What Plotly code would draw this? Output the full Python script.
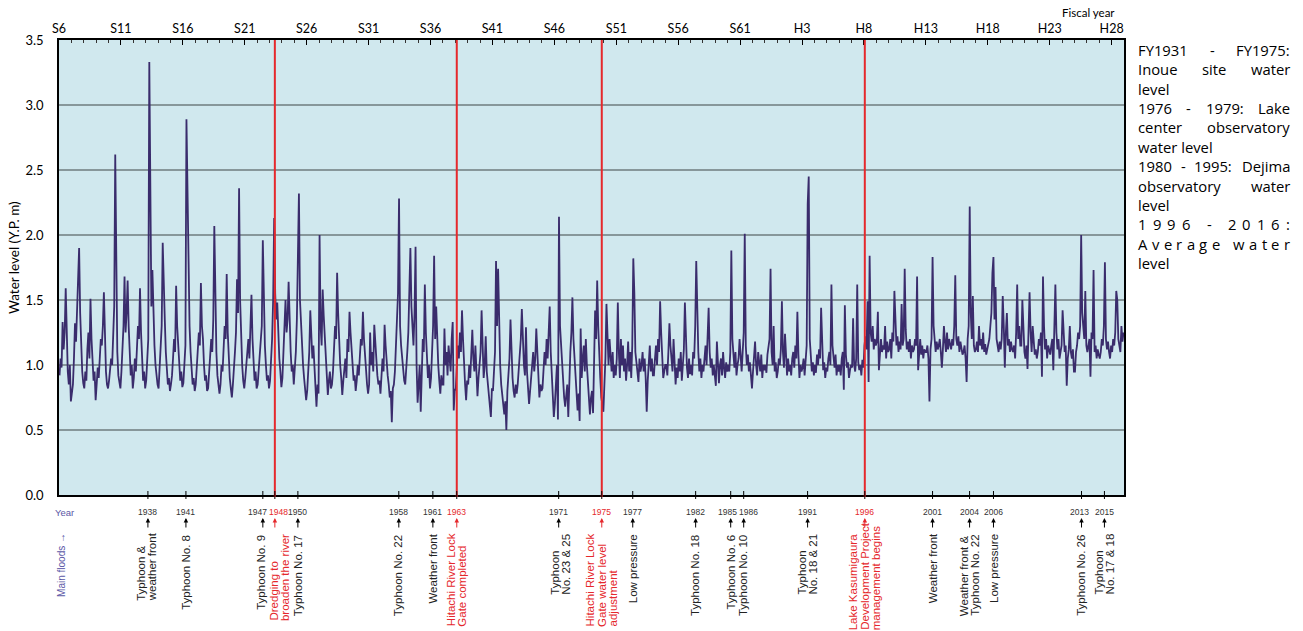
import plotly.graph_objects as go

# ---------------- data ----------------
fiscal_tick_years = list(range(1931, 2017, 5))
fiscal_tick_labels = ["S6", "S11", "S16", "S21", "S26", "S31", "S36", "S41", "S46",
                      "S51", "S56", "S61", "H3", "H8", "H13", "H18", "H23", "H28"]

# monthly water level (Y.P. m), 12 values per fiscal year
level_1931_1940 = [
    0.92, 1.05, 0.98, 1.33, 1.12, 1.25, 1.59, 1.18, 0.95, 0.85, 1.00, 0.72,
    0.78, 0.85, 1.05, 1.32, 1.18, 1.45, 1.72, 1.90, 1.40, 1.15, 0.95, 0.86,
    0.82, 0.95, 0.88, 1.12, 1.25, 1.05, 1.51, 1.20, 0.98, 0.88, 0.95, 0.73,
    0.85, 0.98, 0.90, 1.08, 1.20, 1.15, 1.30, 1.56, 1.10, 0.95, 0.85, 0.82,
    0.88, 0.95, 1.05, 1.00, 1.20, 1.45, 2.62, 1.50, 1.10, 0.92, 0.85, 0.82,
    0.95, 1.10, 1.30, 1.68, 1.25, 1.40, 1.65, 1.30, 1.05, 0.92, 1.00, 0.82,
    0.90, 1.05, 0.95, 1.15, 1.30, 1.20, 1.59, 1.25, 1.00, 0.88, 0.95, 0.82,
    0.88, 1.00, 1.20, 3.33, 2.09, 1.45, 1.73, 1.30, 1.15, 1.00, 0.90, 0.85,
    0.82, 0.95, 1.10, 1.30, 1.94, 1.50, 1.35, 1.10, 0.95, 0.85, 0.90, 0.80,
    0.85, 0.92, 1.05, 1.20, 1.10, 1.61, 1.30, 1.12, 0.98, 0.88, 0.95, 0.83,
]
level_1941_1950 = [
    0.86, 1.00, 1.15, 2.89, 2.20, 1.60, 1.30, 1.10, 0.95, 0.85, 0.90, 0.80,
    0.85, 0.98, 1.10, 1.25, 1.15, 1.63, 1.30, 1.20, 1.00, 0.88, 0.92, 0.80,
    0.82, 0.95, 1.05, 1.20, 1.10, 1.35, 2.07, 1.40, 1.10, 0.92, 0.85, 0.78,
    0.85, 1.00, 0.95, 1.15, 1.30, 1.20, 1.70, 1.25, 1.00, 0.90, 0.82, 0.75,
    0.85, 0.95, 1.10, 1.25, 1.66, 1.40, 2.36, 1.50, 1.20, 1.00, 0.88, 0.82,
    0.90, 1.00, 1.10, 1.20, 1.05, 1.30, 1.54, 1.20, 1.00, 0.88, 0.95, 0.82,
    0.85, 0.95, 1.05, 1.20, 1.30, 1.96, 1.40, 1.15, 1.00, 0.88, 0.92, 0.82,
    0.88, 1.00, 1.20, 1.50, 2.13, 1.55, 1.35, 1.48, 1.20, 1.05, 0.95, 0.83,
    0.90, 1.10, 1.30, 1.50, 1.25, 1.35, 1.64, 1.30, 1.10, 0.95, 1.00, 0.85,
    0.95, 1.10, 1.35, 1.96, 2.32, 1.50, 1.30, 1.15, 1.00, 0.90, 0.82, 0.73,
]
level_1951_1960 = [
    0.80, 0.95, 1.10, 1.42, 1.20, 1.05, 1.15, 0.95, 0.85, 0.68, 0.85, 0.78,
    2.00, 1.30, 1.15, 1.58, 1.38, 1.20, 1.05, 0.95, 0.77, 0.88, 0.95, 0.82,
    0.85, 0.95, 1.10, 1.30, 1.20, 1.71, 1.40, 1.15, 1.00, 0.90, 0.77, 0.88,
    0.95, 1.05, 0.90, 1.20, 1.10, 1.41, 1.25, 1.10, 0.95, 0.88, 0.92, 0.80,
    0.88, 1.00, 0.92, 1.10, 1.20, 1.15, 1.41, 1.20, 1.05, 0.90, 0.85, 0.78,
    0.85, 1.25, 1.00, 1.10, 0.95, 1.31, 1.15, 1.05, 0.92, 0.85, 0.88, 0.78,
    0.90, 1.05, 0.95, 1.31, 1.15, 1.00, 0.92, 0.85, 0.75, 0.80, 0.56, 0.82,
    0.85, 0.95, 1.20, 1.35, 1.55, 2.28, 1.30, 1.15, 1.05, 0.92, 0.88, 0.85,
    0.95, 1.10, 1.25, 1.50, 1.90, 1.45, 1.30, 1.15, 1.40, 1.91, 1.00, 0.71,
    0.85, 1.00, 0.64, 1.05, 1.20, 1.10, 1.62, 1.25, 1.05, 0.90, 1.00, 0.82,
]
level_1961_1970 = [
    0.90, 1.10, 1.30, 1.84, 1.20, 1.45, 1.15, 1.00, 0.88, 0.78, 0.92, 0.85,
    0.85, 1.28, 1.00, 1.10, 0.92, 1.15, 1.05, 0.95, 1.20, 1.33, 0.65, 0.80,
    0.82, 1.00, 1.15, 1.05, 1.25, 1.10, 1.42, 1.20, 0.95, 0.85, 0.73, 0.88,
    0.85, 1.00, 0.90, 1.10, 1.27, 1.05, 0.95, 1.15, 0.88, 0.76, 0.90, 1.00,
    1.10, 1.42, 1.05, 0.90, 1.00, 1.22, 0.95, 0.85, 0.78, 0.70, 0.60, 0.82,
    0.80, 0.95, 1.10, 1.80, 1.30, 1.74, 1.20, 1.00, 0.85, 0.75, 0.68, 0.62,
    0.72, 0.50, 0.80, 0.95, 1.05, 1.35, 1.10, 0.90, 0.80, 0.75, 0.85, 0.78,
    0.85, 0.95, 1.10, 1.20, 1.43, 1.15, 1.00, 0.92, 1.29, 0.95, 0.82, 0.70,
    0.80, 0.90, 1.00, 1.10, 0.95, 1.05, 1.28, 1.10, 0.90, 0.75, 0.85, 0.80,
    0.82, 0.95, 1.10, 1.00, 1.20, 1.05, 1.25, 1.45, 1.10, 0.90, 0.75, 0.60,
]
level_1971_1980 = [
    0.70, 0.85, 1.00, 0.58, 2.14, 1.30, 1.15, 1.00, 0.90, 0.75, 0.68, 0.80,
    0.85, 0.60, 0.95, 1.10, 1.25, 1.52, 1.20, 1.05, 0.90, 0.72, 0.65, 0.78,
    0.57, 1.28, 0.90, 1.05, 1.15, 0.95, 1.20, 1.00, 0.85, 0.70, 0.62, 0.75,
    0.80, 0.63, 1.00, 1.42, 1.20, 1.65, 1.30, 1.05, 0.90, 0.75, 0.70, 0.64,
    0.85, 1.05, 1.47, 1.15, 1.00, 1.20, 1.05, 0.95, 1.10, 0.90, 1.00, 0.92,
    1.05, 1.48, 1.10, 0.90, 1.20, 1.00, 1.15, 0.95, 1.05, 0.88, 1.00, 1.18,
    0.95, 1.10, 0.90, 1.15, 1.82, 1.56, 1.10, 1.00, 0.92, 0.87, 1.05, 0.95,
    1.00, 1.10, 0.95, 1.05, 0.90, 0.64, 0.88, 1.00, 1.15, 0.95, 1.05, 0.92,
    0.92, 1.05, 1.15, 1.00, 1.20, 1.10, 1.49, 1.25, 1.05, 0.90, 0.95, 1.00,
    1.00, 0.92, 1.10, 1.32, 1.15, 1.05, 0.95, 1.20, 1.00, 0.85, 0.98, 0.90,
]
level_1981_1990 = [
    1.05, 0.95, 1.10, 0.88, 1.00, 1.12, 1.48, 1.15, 0.98, 0.90, 1.05, 0.93,
    1.00, 0.92, 1.10, 1.05, 1.30, 1.80, 1.25, 1.10, 0.95, 1.05, 0.90, 1.00,
    0.95, 1.05, 1.15, 1.00, 1.20, 1.44, 1.10, 0.98, 1.05, 0.92, 1.00, 0.88,
    0.84, 1.18, 0.95, 0.86, 1.00, 1.05, 0.92, 1.10, 0.98, 0.90, 1.02, 0.95,
    1.00, 0.95, 1.10, 1.88, 1.20, 1.05, 0.98, 1.10, 0.92, 1.00, 1.05, 1.20,
    1.05, 0.95, 1.10, 1.25, 2.01, 1.15, 1.00, 1.08, 0.95, 1.02, 0.92, 0.82,
    0.95, 1.05, 1.18, 1.00, 0.92, 1.10, 1.02, 0.95, 1.08, 0.90, 1.00, 0.96,
    1.00, 0.94, 1.08, 1.15, 1.20, 1.74, 1.10, 1.00, 1.30, 0.95, 1.02, 0.90,
    0.95, 1.05, 1.00, 1.12, 1.49, 1.10, 0.98, 1.24, 1.00, 0.92, 1.05, 0.95,
    1.00, 0.92, 1.05, 1.10, 0.98, 1.15, 1.05, 1.41, 1.08, 0.90, 1.00, 0.95,
]
level_1991_2000 = [
    0.98, 1.05, 0.92, 1.10, 1.15, 2.24, 2.45, 1.20, 1.05, 0.95, 1.02, 0.92,
    1.00, 0.94, 1.08, 1.00, 1.12, 1.05, 1.44, 1.10, 0.96, 1.02, 0.90, 0.98,
    0.95, 1.05, 1.10, 1.00, 1.62, 1.15, 1.05, 0.98, 1.08, 0.92, 1.00, 0.95,
    1.00, 0.92, 1.05, 1.10, 0.81, 1.46, 1.08, 0.98, 1.02, 0.90, 0.96, 1.00,
    0.98, 1.36, 1.00, 0.95, 1.05, 1.62, 1.02, 0.96, 1.00, 0.92, 1.04, 0.98,
    1.15, 1.22, 1.12, 1.49, 0.87, 1.84, 1.25, 1.18, 1.30, 1.12, 1.20, 1.15,
    1.18, 1.41, 0.96, 1.12, 1.20, 1.10, 1.15, 1.12, 1.30, 1.05, 1.18, 1.10,
    1.12, 1.20, 1.05, 1.25, 1.18, 1.57, 1.30, 1.15, 1.22, 1.10, 1.18, 1.12,
    1.47, 1.15, 1.20, 1.74, 1.27, 1.12, 1.18, 1.10, 1.20, 1.05, 1.15, 1.10,
    1.12, 1.20, 1.15, 1.68, 0.96, 1.10, 1.20, 1.08, 1.15, 1.05, 1.12, 1.10,
]
level_2001_2010 = [
    1.10, 1.15, 1.05, 0.72, 1.12, 1.20, 1.83, 1.30, 1.15, 1.10, 1.18, 1.12,
    1.15, 1.20, 1.10, 0.98, 1.12, 1.30, 1.18, 1.10, 1.25, 1.12, 1.20, 1.15,
    1.12, 1.20, 1.15, 1.30, 1.69, 1.20, 1.15, 1.22, 1.10, 1.18, 1.12, 1.08,
    1.10, 1.15, 1.05, 0.87, 1.20, 1.30, 2.22, 1.40, 1.20, 1.53, 1.15, 1.10,
    1.12, 1.18, 1.10, 1.30, 1.15, 1.20, 1.12, 1.25, 1.10, 1.16, 1.08, 1.12,
    1.15, 1.20, 1.30, 1.40, 1.71, 1.83, 1.35, 1.60, 1.20, 1.15, 1.10, 1.18,
    1.12, 1.20, 1.53, 1.30, 0.98, 1.25, 1.40, 1.15, 1.20, 1.10, 1.18, 1.12,
    1.10, 1.15, 1.05, 1.25, 1.62, 1.20, 1.30, 1.15, 1.15, 1.50, 1.20, 1.10,
    1.05, 1.15, 0.97, 1.20, 1.56, 1.25, 1.10, 1.30, 1.15, 1.08, 1.12, 1.05,
    1.10, 1.20, 1.15, 1.25, 0.91, 1.68, 1.30, 1.12, 1.20, 1.05, 1.15, 1.10,
]
level_2011_2016 = [
    1.08, 1.15, 1.20, 0.96, 1.30, 1.62, 1.25, 1.12, 1.20, 1.05, 1.10, 1.15,
    1.42, 1.20, 1.10, 1.15, 0.84, 1.05, 1.12, 1.30, 1.10, 1.05, 1.12, 0.95,
    0.95, 1.10, 1.15, 1.25, 1.20, 1.30, 2.00, 1.40, 1.30, 1.20, 1.57, 1.15,
    1.10, 1.15, 1.20, 0.91, 1.25, 1.20, 1.73, 1.10, 1.15, 1.05, 1.12, 1.08,
    1.05, 1.10, 1.20, 1.15, 1.30, 1.79, 1.20, 1.12, 1.18, 1.10, 1.05, 1.15,
    1.10, 1.20, 1.15, 1.25, 1.57, 1.50, 1.20, 1.15, 1.10, 1.30, 1.18, 1.25,
]
decade_starts = [1931, 1941, 1951, 1961, 1971, 1981, 1991, 2001, 2011]
decade_levels = [level_1931_1940, level_1941_1950, level_1951_1960, level_1961_1970,
                 level_1971_1980, level_1981_1990, level_1991_2000, level_2001_2010,
                 level_2011_2016]

# main floods / events
flood_years = [1938, 1941, 1947, 1948, 1950, 1958, 1961, 1963, 1971, 1975, 1977,
               1982, 1985, 1986, 1991, 1996, 2001, 2004, 2006, 2013, 2015]
flood_dates = [1938.18, 1941.25, 1947.46, 1948.43, 1950.29, 1958.44, 1961.19, 1963.12,
               1971.35, 1974.83, 1977.33, 1982.41, 1985.24, 1986.29, 1991.45, 1996.07,
               2001.54, 2004.53, 2006.46, 2013.57, 2015.42]
flood_notes = [
    ["Typhoon &", "weather front"], ["Typhoon No. 8"], ["Typhoon No. 9"],
    ["Dredging to", "broaden the river"], ["Typhoon No. 17"], ["Typhoon No. 22"],
    ["Weather front"], ["Hitachi River Lock", "Gate completed"], ["Typhoon", "No. 23 & 25"],
    ["Hitachi River Lock", "Gate water level", "adjustment"], ["Low pressure"],
    ["Typhoon No. 18"], ["Typhoon No. 6"], ["Typhoon No. 10"], ["Typhoon", "No. 18 & 21"],
    ["Lake Kasumigaura", "Development Project", "management begins"], ["Weather front"],
    ["Weather front &", "Typhoon No. 22"], ["Low pressure"], ["Typhoon No. 26"],
    ["Typhoon", "No. 17 & 18"],
]
flood_is_measure = [False, False, False, True, False, False, False, True, False, True, False,
                    False, False, False, False, True, False, False, False, False, False]

side_note_lines = ["FY1931 - FY1975:", "Inoue site water", "level", "1976 - 1979: Lake",
                   "center observatory", "water level", "1980 - 1995: Dejima",
                   "observatory water", "level", "1996 - 2016:", "Average water", "level"]
# justification of each line: word-spread, letter-spread or plain left
side_note_mode = ["word", "word", "left", "word", "word", "left", "word", "word", "left",
                  "char", "char", "left"]

# ---------------- styling / layout ----------------
PL, PR, PT, PB = 59, 1124, 40, 495
PW, PH = PR - PL, PB - PT
LINE_COL = "#3a2c6c"
RED = "#e5282c"
BLUE = "#5b57a6"
BG = "#d0e8ee"
MYR = "Lato, 'Open Sans', sans-serif"
OPS = "'Open Sans', Lato, sans-serif"
HEL = "'Liberation Sans', Arial, sans-serif"


def pyp(p):
    return (PB - p) / PH


def pxp(p):
    return (p - PL) / PW


_W = {}
_W.update(dict(zip("abcdefghijklmnopqrstuvwxyz",
                   [556, 556, 500, 556, 556, 278, 556, 556, 222, 222, 500, 222, 833, 556,
                    556, 556, 556, 333, 500, 278, 556, 500, 722, 500, 500, 500])))
_W.update(dict(zip("ABCDEFGHIJKLMNOPQRSTUVWXYZ",
                   [667, 667, 722, 722, 667, 611, 778, 722, 278, 500, 667, 556, 833, 722,
                    778, 667, 778, 722, 667, 611, 722, 667, 944, 667, 667, 611])))
_W.update({" ": 278, ".": 278, "&": 667, "-": 333, ":": 278, "\u2192": 1000})


def text_w(s, size):
    return sum(_W.get(c, 556) for c in s) / 1000.0 * size


# approximate Open Sans advance widths (em)
_OW = dict(zip("abcdefghijklmnopqrstuvwxyz",
               [.556, .613, .480, .613, .561, .336, .546, .614, .258, .258, .525, .258, .932,
                .614, .603, .613, .613, .408, .477, .353, .614, .500, .778, .524, .500, .465]))
_OW.update({"A": .633, "D": .730, "F": .532, "I": .331, "L": .519, "Y": .579,
            "-": .322, ":": .266, " ": .260})


def os_w(s, size):
    return sum(_OW.get(c, .572) for c in s) * size


xs, ys = [], []
for y0, vals in zip(decade_starts, decade_levels):
    for i, v in enumerate(vals):
        xs.append(y0 + i / 12.0 + 1 / 24.0)
        ys.append(v)

fig = go.Figure()
fig.add_trace(go.Scatter(x=xs, y=ys, mode="lines",
                         line=dict(color=LINE_COL, width=1.8), hoverinfo="skip"))

shapes = []
annotations = []

# red policy lines
for d, m in zip(flood_dates, flood_is_measure):
    if m:
        shapes.append(dict(type="line", xref="x", yref="paper", x0=d, x1=d, y0=pyp(497), y1=1,
                           line=dict(color=RED, width=2)))

# flood ticks on bottom axis
for d in flood_dates:
    shapes.append(dict(type="line", xref="x", yref="paper", x0=d, x1=d,
                       y0=pyp(499), y1=pyp(491), line=dict(color="black", width=1)))

label_shift = {1947: -5.5, 1948: 4, 1985: -3, 1986: 5, 2013: -2}
note_shift = {1938: -2, 1947: -2, 1948: 5, 1971: 2}
NOTE_FS = 11.5
LINE_GAP = 11.5
for yr, d, notes, m in zip(flood_years, flood_dates, flood_notes, flood_is_measure):
    col = RED if m else "#222222"
    annotations.append(dict(x=d, xref="x", y=pyp(512), yref="paper", text=str(yr),
                            showarrow=False, xanchor="center", yanchor="middle",
                            xshift=label_shift.get(yr, 0),
                            font=dict(family=HEL, size=8.5, color=RED if m else "#333333")))
    annotations.append(dict(x=d, xref="x", y=pyp(518), yref="paper", text="",
                            showarrow=True, ax=0, ay=11, arrowhead=2, arrowsize=0.9,
                            arrowwidth=1, arrowcolor=RED if m else "black", standoff=0))
    n = len(notes)
    lmax = max(text_w(s, NOTE_FS) for s in notes)
    bottom = min(534 + lmax, 630)
    for i, s in enumerate(notes):
        annotations.append(dict(x=d, xref="x", y=pyp(bottom), yref="paper", text=s,
                                showarrow=False, textangle=-90, xanchor="center",
                                yanchor="bottom", borderpad=0, borderwidth=0,
                                xshift=(i - (n - 1) / 2.0) * LINE_GAP + note_shift.get(yr, 0),
                                font=dict(family=HEL, size=NOTE_FS, color=col)))

# "Year" and "Main floods" labels
annotations.append(dict(x=pxp(64), xref="paper", y=pyp(512), yref="paper", text="Year",
                        showarrow=False, xanchor="center", yanchor="middle",
                        font=dict(family=HEL, size=9.5, color=BLUE)))
mf = "Main floods \u2192"
annotations.append(dict(x=pxp(62), xref="paper", y=pyp(533 + text_w(mf, 10)), yref="paper",
                        text=mf, showarrow=False, textangle=-90, xanchor="center",
                        yanchor="bottom", borderpad=0, borderwidth=0,
                        font=dict(family=HEL, size=10, color=BLUE)))

# axis titles
annotations.append(dict(x=pxp(14), xref="paper", y=pyp(258), yref="paper",
                        text="Water level (Y.P. m)", showarrow=False, textangle=-90,
                        xanchor="center", yanchor="middle",
                        font=dict(family=MYR, size=13.5, color="black")))
annotations.append(dict(x=pxp(1117), xref="paper", y=pyp(12), yref="paper",
                        text="Fiscal year", showarrow=False, xanchor="right", yanchor="middle",
                        font=dict(family=MYR, size=11.5, color="black")))

# right side note, justified like the original text block
SN_L, SN_R, SN_TOP, SN_STEP, SN_FS = 1138, 1290, 50, 19.36, 14.8


def sn_ann(xpx, yc, txt, anchor):
    return dict(x=pxp(xpx), xref="paper", y=yc, yref="paper", text=txt, showarrow=False,
                xanchor=anchor, yanchor="middle", borderpad=0, borderwidth=0,
                font=dict(family=OPS, size=SN_FS, color="black"))


for i, (line, mode) in enumerate(zip(side_note_lines, side_note_mode)):
    yc = pyp(SN_TOP + i * SN_STEP)
    if mode == "left":
        annotations.append(sn_ann(SN_L, yc, line, "left"))
        continue
    if mode == "word":
        toks = line.split(" ")
        widths = [os_w(t, SN_FS) for t in toks]
    else:
        toks = list(line)
        widths = [os_w(t, SN_FS) for t in toks]
    gap = (SN_R - SN_L - sum(widths)) / (len(toks) - 1)
    xpos = SN_L
    for j, t in enumerate(toks):
        if t != " ":
            if j == len(toks) - 1:
                annotations.append(sn_ann(SN_R, yc, t, "right"))
            else:
                annotations.append(sn_ann(xpos, yc, t, "left"))
        xpos += widths[j] + gap

fig.update_layout(
    width=1303, height=631,
    margin=dict(l=PL, r=1303 - PR, t=PT, b=631 - PB, pad=0),
    paper_bgcolor="white", plot_bgcolor=BG,
    showlegend=False,
    shapes=shapes, annotations=annotations,
    xaxis=dict(range=[1931, 2017], side="top", tickmode="array",
               tickvals=fiscal_tick_years, ticktext=fiscal_tick_labels,
               ticks="inside", ticklen=5, tickcolor="black", tickwidth=1,
               minor=dict(tick0=1931, dtick=1, ticks="inside", ticklen=3,
                          tickcolor="#333333", tickwidth=0.8),
               showline=True, mirror=True, linecolor="black", linewidth=1.5,
               showgrid=False, zeroline=False,
               tickfont=dict(family=MYR, size=12.5, color="black")),
    yaxis=dict(range=[0, 3.5], tickmode="array",
               tickvals=[0, 0.5, 1.0, 1.5, 2.0, 2.5, 3.0, 3.5],
               ticktext=["0.0", "0.5", "1.0", "1.5", "2.0", "2.5", "3.0", "3.5"],
               ticks="", ticklabelstandoff=11,
               showline=True, mirror=True, linecolor="black", linewidth=1.5,
               showgrid=True, gridcolor="#87979a", gridwidth=1.6, zeroline=False,
               tickfont=dict(family=MYR, size=13, color="black")),
)

fig.write_html("out.html", config={"displayModeBar": False},
               post_script="document.body.style.margin='0px';")
